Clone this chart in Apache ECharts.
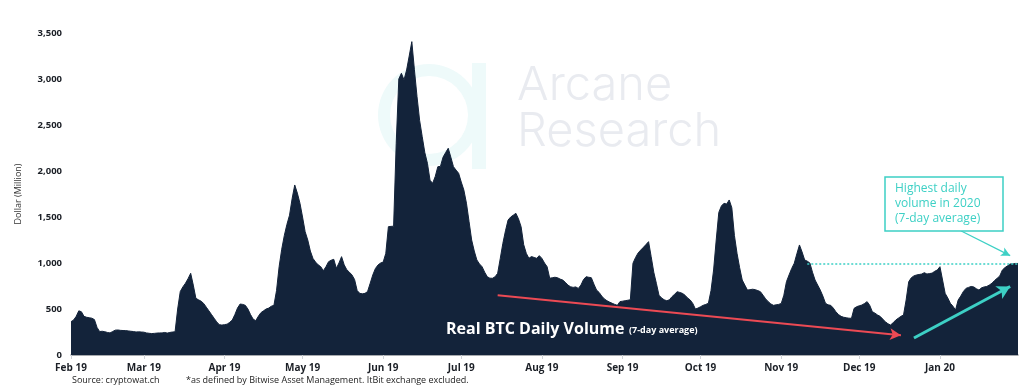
<!DOCTYPE html>
<html>
<head>
<meta charset="utf-8">
<script src="https://cdn.jsdelivr.net/npm/echarts@6/dist/echarts.min.js"></script>
<style>html,body{margin:0;padding:0;background:#fff;}#c{width:1024px;height:389px;}</style>
</head>
<body>
<div id="c"></div>
<script>
// Monthly tick labels
const monthLabels = ['Feb 19','Mar 19','Apr 19','May 19','Jun 19','Jul 19','Aug 19','Sep 19','Oct 19','Nov 19','Dec 19','Jan 20'];
// Real BTC daily volume (7-day average), $ million, one value per day
const feb19 = [362,380,420,480,470,420,410,405,400,385,300,255,258,253,245,240,255,270,272,268,266,265,262,258,255,250,252,250];
const mar19 = [248,240,236,233,235,238,240,240,245,238,245,250,252,500,690,740,780,830,888,760,616,600,585,560,520,480,440,400,360,330,325];
const apr19 = [330,335,355,380,440,510,554,550,540,500,440,390,373,420,460,480,500,510,530,540,700,960,1150,1300,1420,1520,1700,1848,1760,1650];
const may19 = [1500,1340,1250,1130,1050,1010,980,960,916,960,1014,1030,1040,942,1000,1069,980,927,900,870,820,700,670,665,670,690,780,870,940,978,1000];
const jun19 = [1010,1105,1395,1398,1400,2300,3000,3062,2990,3098,3250,3406,3100,2808,2550,2373,2200,2084,1900,1866,1940,2047,2050,2150,2200,2247,2150,2047,2010,1975];
const jul19 = [1880,1793,1650,1450,1250,1130,1033,990,960,900,851,835,834,850,888,1050,1214,1350,1467,1500,1520,1540,1480,1395,1200,1105,1051,1070,1060,1051,1080];
const aug19 = [1050,1000,960,834,840,845,840,825,815,790,760,742,735,740,724,760,820,851,845,840,770,706,680,640,610,590,575,562,550,540,580];
const sep19 = [585,590,595,600,997,1060,1110,1141,1170,1200,1232,1069,900,779,650,620,600,590,600,634,660,688,680,670,650,620,598,560,500,510];
const oct19 = [525,540,550,562,700,924,1250,1550,1620,1649,1640,1685,1600,1300,1105,950,815,760,706,710,715,710,700,688,650,610,580,555,540,545,550];
const nov19 = [560,650,797,870,940,997,1100,1196,1120,1033,1020,1000,900,815,760,706,640,562,545,540,510,470,440,420,410,405,400,399,507,525];
const dec19 = [535,543,560,580,540,471,455,435,420,390,362,340,326,350,380,400,420,435,598,797,840,860,870,875,880,895,880,885,890,910,924];
const jan20 = [960,815,670,620,562,530,489,598,640,690,724,735,745,740,720,706,730,740,745,761,780,810,834,860,924,950,970,990,990,995,995];
const months = [feb19,mar19,apr19,may19,jun19,jul19,aug19,sep19,oct19,nov19,dec19,jan20];
// Annotation values
const highest2020 = 995;
const yTicks = [0,500,1000,1500,2000,2500,3000,3500];

const categories = [];
const values = [];
months.forEach((arr, m) => arr.forEach((v, i) => { categories.push(monthLabels[m] + '|' + (i + 1)); values.push(v); }));
const isMonthStart = (idx, val) => String(val).endsWith('|1');
const lastIdx = values.length - 1;

const chart = echarts.init(document.getElementById('c'), null, {renderer: 'canvas'});
const teal = '#3dd0c5';
const red = '#ec4a54';
const fontFam = '"Open Sans", "Noto Sans", sans-serif';

chart.setOption({
  animation: false,
  backgroundColor: '#ffffff',
  grid: {left: 71, right: 6, top: 33, bottom: 34},
  xAxis: {
    type: 'category',
    data: categories,
    boundaryGap: false,
    axisLine: {show: true, lineStyle: {color: '#8a8e94', width: 1.5}},
    axisTick: {show: true, interval: isMonthStart, length: 4, lineStyle: {color: '#d0d3d8'}},
    axisLabel: {
      interval: isMonthStart,
      formatter: v => String(v).split('|')[0],
      color: '#1b1f26', fontSize: 10, fontWeight: 'bold', fontFamily: fontFam, margin: 8
    },
    splitLine: {show: false}
  },
  yAxis: {
    type: 'value',
    min: 0, max: 3500, interval: 500,
    name: 'Dollar (Million)',
    nameLocation: 'middle',
    nameGap: 48,
    nameTextStyle: {color: '#333', fontSize: 9, fontFamily: fontFam},
    axisLine: {show: false},
    axisTick: {show: false},
    splitLine: {show: false},
    axisLabel: {
      color: '#1b1f26', fontSize: 9.5, fontWeight: 'bold', fontFamily: fontFam, margin: 9,
      formatter: v => yTicks.includes(v) ? v.toLocaleString('en-US') : ''
    }
  },
  series: [{
    type: 'line',
    data: values,
    symbol: 'none',
    smooth: false,
    lineStyle: {color: '#13233a', width: 1},
    areaStyle: {color: '#13233a', opacity: 1},
    z: 2,
    markLine: {
      silent: true,
      animation: false,
      label: {show: false},
      data: [
        [{coord: [164, 650], symbol: 'none', lineStyle: {color: red, width: 2, type: 'solid'}},
         {coord: [319, 215], symbol: 'arrow', symbolSize: [9, 11]}],
        [{coord: [324, 185], symbol: 'none', lineStyle: {color: teal, width: 3, type: 'solid'}},
         {coord: [361, 745], symbol: 'arrow', symbolSize: [11, 13]}],
        [{coord: [283, highest2020], symbol: 'none', lineStyle: {color: teal, width: 1.5, type: [2, 2]}},
         {coord: [lastIdx, highest2020], symbol: 'none'}],
        [{coord: [342, 1350], symbol: 'none', lineStyle: {color: teal, width: 1.2, type: 'solid'}},
         {coord: [361, 1080], symbol: 'arrow', symbolSize: [7, 9]}]
      ]
    }
  }],
  graphic: [
    {type: 'ring', z: -10, silent: true, shape: {cx: 429, cy: 115, r: 51, r0: 39}, style: {fill: '#eefafa'}},
    {type: 'rect', z: -10, silent: true, shape: {x: 472, y: 63, width: 14, height: 106}, style: {fill: '#eefafa'}},
    {type: 'text', z: -10, silent: true, x: 517, y: 62, style: {text: 'Arcane', font: '300 47px Inter, Lato, "Open Sans", sans-serif', fill: '#e9ebf0'}},
    {type: 'text', z: -10, silent: true, x: 517, y: 108, style: {text: 'Research', font: '300 47px Inter, Lato, "Open Sans", sans-serif', fill: '#e9ebf0'}},
    {type: 'rect', z: 50, silent: true, shape: {x: 885, y: 177, width: 118, height: 54}, style: {fill: '#ffffff', stroke: teal, lineWidth: 1.5}},
    {type: 'text', z: 51, silent: true, x: 895, y: 181, style: {text: 'Highest daily\nvolume in 2020\n(7-day average)', font: '12px "Open Sans", sans-serif', fill: teal, lineHeight: 15}},
    {type: 'text', z: 51, silent: true, x: 446, y: 321, style: {text: 'Real BTC Daily Volume', font: 'bold 16px "Open Sans", sans-serif', fill: '#ffffff'}},
    {type: 'text', z: 51, silent: true, x: 629, y: 326, style: {text: '(7-day average)', font: 'bold 9px "Open Sans", sans-serif', fill: '#ffffff'}},
    {type: 'text', z: 51, silent: true, x: 72, y: 376, style: {text: 'Source: cryptowat.ch', font: '9px "Open Sans", sans-serif', fill: '#222'}},
    {type: 'text', z: 51, silent: true, x: 186, y: 376, style: {text: '*as defined by Bitwise Asset Management. ItBit exchange excluded.', font: '9px "Open Sans", sans-serif', fill: '#222'}}
  ]
});
</script>
</body>
</html>
